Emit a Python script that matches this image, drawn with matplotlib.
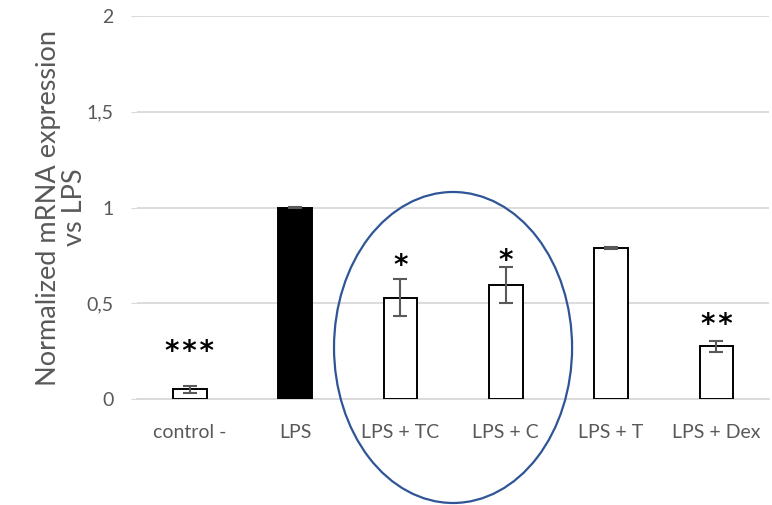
import matplotlib.pyplot as plt
from matplotlib.patches import Ellipse

# qPCR results, normalized to LPS
groups = ['control -', 'LPS', 'LPS + TC', 'LPS + C', 'LPS + T', 'LPS + Dex']
expression = [0.05, 1.0, 0.53, 0.595, 0.79, 0.275]
errors = [0.02, 0.003, 0.095, 0.095, 0.006, 0.028]
stars = ['***', '', '*', '*', '', '**']
star_height = [0.245, 0, 0.695, 0.722, 0, 0.387]

# colors
grid_color = '#d9d9d9'
text_color = '#595959'
err_color = '#595959'
ring_color = '#2f5597'

plt.rcParams['font.family'] = ['Lato', 'DejaVu Sans']

fig = plt.figure(figsize=(7.72, 5.05), dpi=100)
ax = fig.add_axes([0.1775, 0.2099, 0.8187, 0.7584])

x = list(range(len(groups)))
face = ['black' if g == 'LPS' else 'white' for g in groups]
ax.bar(x, expression, width=0.32, color=face, edgecolor='black', linewidth=1.4, zorder=3)
ax.errorbar(x, expression, yerr=errors, fmt='none', ecolor=err_color,
            elinewidth=1.5, capsize=5, capthick=1.5, zorder=4)

# significance marks, spaced out a little
for i, s in enumerate(stars):
    if s:
        ax.text(i, star_height[i], '\u200a'.join(s), ha='center', va='center',
                fontsize=20, fontweight='bold', color='black',
                family='DejaVu Sans', zorder=5)

# highlight the two combined treatments
ring = Ellipse((2.5, 0.269), width=2.26, height=1.624, fill=False,
               edgecolor=ring_color, linewidth=1.6, zorder=6, clip_on=False)
ax.add_patch(ring)

ax.set_xlim(-0.5, len(groups) - 0.5)
ax.set_ylim(0, 2)
ax.set_yticks([0, 0.5, 1, 1.5, 2])
ax.set_yticklabels(['0', '0,5', '1', '1,5', '2'])
ax.set_xticks(x)
ax.set_xticklabels(groups)

ax.yaxis.grid(True, color=grid_color, linewidth=1.3, zorder=0)
ax.set_axisbelow(True)
for side in ['top', 'right', 'left']:
    ax.spines[side].set_visible(False)
ax.spines['bottom'].set_color(grid_color)
ax.spines['bottom'].set_linewidth(1.3)

ax.tick_params(axis='y', colors=text_color, labelsize=14, length=4, color=grid_color, pad=13)
ax.tick_params(axis='x', colors=text_color, labelsize=14, length=0, pad=18)

ax.set_ylabel('Normalized mRNA expression\nvs LPS', fontsize=19.5, color=text_color,
              linespacing=1.05)
ax.yaxis.set_label_coords(-0.079, 0.5)

fig.savefig('out.png', dpi=100)
